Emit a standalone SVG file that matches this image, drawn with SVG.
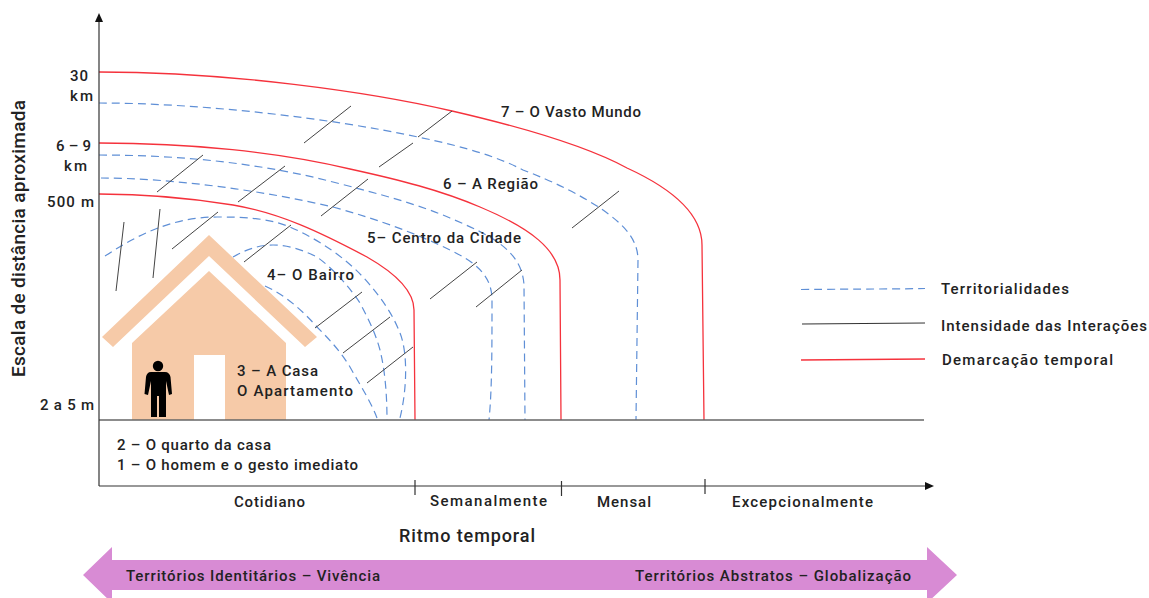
<svg xmlns="http://www.w3.org/2000/svg" width="1149" height="598" viewBox="0 0 1149 598">
<style>
text{font-family:Roboto,"Liberation Sans",sans-serif;font-size:15px;font-weight:500;fill:#222}
.r{fill:none;stroke:#f5323c;stroke-width:1.3}
.b{fill:none;stroke:#5f8fd6;stroke-width:1.2;stroke-dasharray:8 5}
.k{fill:none;stroke:#444;stroke-width:1}
.a{fill:none;stroke:#333;stroke-width:1.2}
.h{fill:#f6caa8}
</style>
<defs>
<marker id="ah" markerWidth="10" markerHeight="8" refX="1" refY="4" orient="auto" markerUnits="userSpaceOnUse"><path d="M0 0L9 4L0 8z" fill="#111"/></marker>
</defs>
<g id="band">
<path d="M83 575L112 547V560H927V547L957 575L927 603V590H112V603z" fill="#d88bd4"/>
<text x="126" y="581" textLength="254">Territórios Identitários – Vivência</text>
<text x="635" y="581" textLength="276">Territórios Abstratos – Globalização</text>
</g>
<g id="casa">
<path class="h" d="M209 235L317 337L305 347L209 256L113 347L102 337z"/>
<path class="h" d="M209 271L286 343V420H225V355H194V420H132V343z"/>
<text x="237" y="376" textLength="81">3 – A Casa</text>
<text x="237" y="396" textLength="116">O Apartamento</text>
</g>
<g id="pessoa">
<circle cx="158" cy="366" r="5.200" fill="#000"/>
<path d="M151 372H165C168 372 170 374 170.500 377L172 394L169 395L166 381V417H159V396H157V417H151V381L148 395L144.500 394L146 377C146.500 374 148 372 151 372z" fill="#000"/>
</g>
<g id="connectors">
<path class="b" d="M99 103C200 103 330 118 418 137C470 148 500 158 523 170C555 182 580 195 600 208C625 225 638 240 638 260L636 420"/>
<path class="b" d="M99 155C180 155 260 163 333 182C380 194 420 205 450 218C490 235 522 250 524 285L525 420"/>
<path class="b" d="M101 178C170 178 260 190 333 207C380 220 420 235 450 250C475 262 492 275 492 300C492 350 492 390 489 420"/>
<path class="b" d="M105 256C140 233 175 217 217 217C245 217 268 218 290 227C320 240 345 258 363 277C382 298 393 315 400 333C407 350 408 385 400 418"/>
<path class="b" d="M233 257C245 250 258 245 273 245C288 245 303 250 317 257C335 270 350 288 360 303C370 322 376 335 380 350C385 370 387 395 387 420"/>
<path class="b" d="M265 286C285 295 302 310 317 327C330 340 341 352 350 367C360 385 370 400 377 418"/>
<path class="r" d="M99 72C230 72 370 92 452 111C530 129 590 148 627 168C675 190 702 215 702 245L704 420"/>
<path class="r" d="M99 143C190 143 280 152 350 169C400 180 440 190 480 207C530 228 560 250 560 280L561 420"/>
<path class="r" d="M99 194C140 194 190 198 233 205C280 213 320 232 367 257C395 273 414 290 414 310L415 420"/>
<path class="k" d="M304 143L351 106M379 167L413 143M418 137L452 111M157 192L203 155M238 202L285 166M321 216L368 179M172 249L218 212M244 262L291 225M116 291L124 222M153 278L160 209M315 328L362 292M343 353L390 317M367 383L413 347M430 299L477 262M476 307L522 270M572 228L619 191"/>
<path d="M99 420H924" fill="none" stroke="#666" stroke-width="1.600"/>
<path class="a" d="M99 486V21" marker-end="url(#ah)"/>
<path class="a" d="M99 486H926" marker-end="url(#ah)"/>
<path class="a" d="M415 480V495M561.500 481V496M705 479V494"/>
<path d="M801 289.500C860 289 900 289 925 288.500" fill="none" stroke="#5f8fd6" stroke-width="1.200" stroke-dasharray="8 5"/>
<path d="M802 324L925 323" fill="none" stroke="#333" stroke-width="1.200"/>
<path d="M801 360L925 359" fill="none" stroke="#f5323c" stroke-width="1.300"/>
</g>
<g id="eixo-y">
<text transform="translate(25 377) rotate(-90)" style="font-size:19px" textLength="277">Escala de distância aproximada</text>
<text x="70" y="81" textLength="18">30</text>
<text x="70" y="101" textLength="23">km</text>
<text x="56" y="151" textLength="35">6 – 9</text>
<text x="64" y="171" textLength="23">km</text>
<text x="47" y="207" textLength="47">500 m</text>
<text x="40" y="410" textLength="54">2 a 5 m</text>
</g>
<g id="niveis">
<text x="501" y="117" textLength="140">7 – O Vasto Mundo</text>
<text x="443" y="189" textLength="95">6 – A Região</text>
<text x="367" y="243" textLength="154">5– Centro da Cidade</text>
<text x="267" y="280" textLength="87">4– O Bairro</text>
<text x="117" y="450" textLength="154">2 – O quarto da casa</text>
<text x="117" y="470" textLength="241">1 – O homem e o gesto imediato</text>
</g>
<g id="eixo-x">
<text x="234" y="507" textLength="71">Cotidiano</text>
<text x="430" y="506" textLength="117">Semanalmente</text>
<text x="597" y="507" textLength="54">Mensal</text>
<text x="732" y="507" textLength="141">Excepcionalmente</text>
<text x="399" y="542" style="font-size:18px" textLength="136">Ritmo temporal</text>
</g>
<g id="legenda">
<text x="941" y="294" textLength="128">Territorialidades</text>
<text x="941" y="331" textLength="206">Intensidade das Interações</text>
<text x="942" y="365" textLength="171">Demarcação temporal</text>
</g>
</svg>
